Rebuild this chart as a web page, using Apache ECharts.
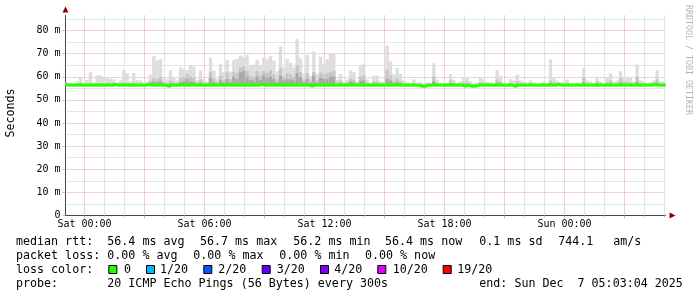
<!DOCTYPE html>
<html><head><meta charset="utf-8">
<script src="https://cdn.jsdelivr.net/npm/echarts@6/dist/echarts.min.js"></script>
<style>html,body{margin:0;padding:0;background:#fff}#c{width:697px;height:297px}</style>
</head><body><div id="c"></div>
<script>
// time axis in hours relative to Sat 00:00; graph spans Fri 23:03:04 .. Sun 05:03:04
const startHour = -0.948889;
const endHour = 29.051111;
const binHours = 1 / 6;
const yMax = 86.49;
const smokeFloor = 55.9;

const medianRtt = [
56.4,56.4,56.4,56.4,56.4,56.4,56.4,56.4,56.4,56.4,
56.4,56.4,56.4,56.4,56.7,56.4,56.4,56.4,56.4,56.4,
56.4,56.4,56.4,56.4,56.7,56.4,56.4,56.4,56.4,56.4,
55.8,56.4,56.4,56.4,56.4,56.4,56.4,56.4,56.4,56.4,
56.4,56.4,56.4,56.4,56.4,56.4,56.4,56.4,56.4,56.4,
56.4,56.4,56.4,56.4,56.4,56.4,56.4,56.4,56.8,56.4,
56.4,56.4,56.4,56.4,56.4,56.4,56.4,56.4,56.4,56.4,
56.4,56.4,56.4,56.0,56.4,56.4,56.4,56.4,56.4,56.4,
56.4,56.4,56.4,56.4,56.4,56.4,56.4,56.4,56.4,56.4,
56.4,56.4,56.4,56.4,56.4,56.4,56.4,56.4,56.4,56.4,
56.4,56.4,56.4,56.4,56.4,56.4,55.9,55.9,56.4,56.4,
56.4,56.4,56.4,56.4,56.4,56.4,56.4,56.4,56.4,56.0,
56.4,55.9,55.9,56.4,56.4,56.4,56.4,56.4,56.4,56.4,
56.4,56.4,56.4,56.4,55.9,56.4,56.4,56.4,56.4,56.4,
56.4,56.4,56.4,56.4,56.4,56.4,56.4,56.8,56.4,56.4,
56.4,56.4,56.4,56.4,56.4,56.4,56.4,56.4,56.4,56.4,
56.4,56.4,56.4,56.4,56.4,56.4,56.4,56.4,56.4,56.4,
56.4,56.4,56.4,56.4,56.4,56.4,56.8,56.4,56.4,56.4
];

// highest ping per 10-minute bin (lightest smoke)
const smokeOuter = [
57.6,57.4,56.9,58.0,59.8,57.4,58.6,62.0,57.6,60.6,
60.5,59.4,59.6,59.2,58.8,57.5,58.5,63.0,61.6,58.0,
61.6,58.5,58.5,57.6,58.0,61.0,68.9,67.0,67.6,59.6,
59.0,62.7,60.0,58.4,64.1,63.4,63.0,65.0,64.5,58.5,
62.7,59.0,58.0,68.3,62.7,59.0,65.6,62.0,67.3,62.2,
67.3,67.7,69.2,68.5,69.5,65.0,65.3,67.3,65.0,68.3,
67.5,68.9,67.0,62.4,73.1,64.1,67.6,66.0,64.0,76.4,
68.0,61.2,69.5,60.5,71.0,61.2,68.7,65.6,67.6,69.9,
69.9,58.8,61.2,58.0,58.8,62.7,62.0,58.0,64.7,65.6,
58.8,57.5,60.5,60.5,58.0,57.8,73.5,66.7,61.0,63.8,
61.2,58.4,57.6,57.2,58.8,57.2,57.8,57.0,57.6,57.2,
65.8,58.8,57.2,57.0,57.4,61.2,58.8,57.2,58.0,59.8,
59.8,58.0,57.2,57.6,59.8,59.0,57.8,57.6,57.2,63.0,
60.5,57.2,57.0,59.0,58.4,60.9,58.4,58.0,57.6,58.4,
57.6,57.0,57.2,58.0,57.2,67.5,59.8,58.4,57.4,58.0,
58.8,57.2,57.0,57.4,57.4,63.8,58.4,58.0,57.2,60.0,
58.0,57.2,59.5,61.5,58.0,58.4,62.4,60.0,60.0,59.8,
58.0,65.3,58.4,58.0,57.2,57.6,58.4,62.7,58.0,58.0
];

// inner smoke band (medium grey)
const smokeMiddle = [
56.8,56.8,56.6,57.0,57.4,56.8,57.0,57.2,56.8,57.4,
57.2,57.0,57.4,57.0,57.0,56.8,57.0,57.6,57.4,57.0,
57.4,57.0,57.0,56.8,57.0,58.2,59.5,59.0,60.0,57.8,
57.4,58.4,57.6,57.2,59.4,59.8,61.0,60.0,59.6,57.4,
58.8,57.6,57.2,62.0,59.2,57.6,60.4,58.6,61.8,59.0,
62.0,61.5,64.0,64.5,62.5,60.5,60.0,62.5,60.4,62.5,
61.8,62.8,61.0,59.0,63.5,60.0,61.5,61.0,60.0,65.0,
62.0,58.8,61.5,58.4,62.0,58.6,61.8,61.0,61.5,62.0,
62.5,57.6,58.4,57.2,57.6,59.2,58.8,57.2,60.0,60.5,
57.4,57.0,58.0,58.0,57.0,57.0,63.0,60.5,58.2,59.4,
58.2,57.2,57.0,56.8,57.2,56.8,57.0,56.8,57.0,56.8,
60.0,57.4,56.8,56.8,57.0,58.4,57.4,56.8,57.0,57.6,
57.6,57.0,56.8,57.0,57.6,57.4,57.0,57.0,56.8,58.8,
58.0,56.8,56.8,57.4,57.0,58.0,57.2,57.0,57.0,57.2,
57.0,56.8,56.8,57.0,56.8,58.4,57.6,57.2,56.8,57.0,
57.4,56.8,56.8,57.0,57.0,59.6,57.2,57.0,56.8,58.0,
57.0,56.8,57.6,58.6,57.0,57.2,59.2,58.0,57.8,57.6,
57.0,60.0,57.2,57.0,56.8,57.0,57.4,58.8,57.0,57.0
];

// core smoke band (dark grey)
const smokeInner = [
56.6,56.6,56.6,56.6,56.8,56.6,56.6,56.8,56.6,56.8,
56.8,56.6,56.8,56.6,56.6,56.6,56.6,57.0,56.8,56.6,
57.0,56.6,56.6,56.6,56.6,57.4,58.0,57.6,58.2,57.0,
56.8,57.2,56.8,56.8,57.6,58.0,59.0,58.0,57.8,56.8,
57.4,56.8,56.8,59.4,57.6,56.8,58.4,57.4,59.0,57.6,
60.0,59.0,62.0,62.5,60.0,58.6,58.2,60.0,58.6,60.5,
59.4,60.0,59.0,57.6,60.5,58.4,59.0,58.8,58.4,61.5,
59.8,57.6,59.0,57.4,60.5,57.4,59.5,59.0,59.0,60.0,
60.0,56.8,57.4,56.8,57.0,58.0,57.6,56.8,58.2,58.4,
56.8,56.6,57.0,57.0,56.6,56.6,59.0,58.4,57.2,57.6,
57.2,56.8,56.6,56.6,56.8,56.6,56.6,56.6,56.6,56.6,
58.0,56.8,56.6,56.6,56.6,57.2,56.8,56.6,56.6,57.0,
57.0,56.6,56.6,56.6,57.0,56.8,56.6,56.6,56.6,57.4,
57.0,56.6,56.6,56.8,56.8,57.0,56.8,56.6,56.6,56.8,
56.6,56.6,56.6,56.6,56.6,57.2,56.8,56.8,56.6,56.6,
56.8,56.6,56.6,56.6,56.6,57.6,56.8,56.6,56.6,57.0,
56.6,56.6,56.8,57.2,56.6,56.8,57.4,57.0,56.8,56.8,
56.6,57.8,56.8,56.6,56.6,56.6,56.8,57.2,56.6,56.6
];

const yMajorTicks = [0,10,20,30,40,50,60,70,80];
const yMinorTicks = [5,15,25,35,45,55,65,75,85];
const xMajorTicks = [0,3,6,9,12,15,18,21,24,27];
const xMinorTicks = [1,2,4,5,7,8,10,11,13,14,16,17,19,20,22,23,25,26,28,29];
const xLabelTicks = [0,6,12,18,24];
const xTickLabels = ['Sat 00:00','Sat 06:00','Sat 12:00','Sat 18:00','Sun 00:00'];

const lossColors = ['#26ff00','#00b8ff','#0059ff','#5e00ff','#7e00ff','#dd00ff','#ff0000'];
const lossLabels = ['0','1/20','2/20','3/20','4/20','10/20','19/20'];

const legendRows = [
  [[16,'median rtt:'],[107.3,'56.4 ms avg'],[200,'56.7 ms max'],[293.3,'56.2 ms min'],[385,'56.4 ms now'],[479.3,'0.1 ms sd'],[558.3,'744.1'],[613.3,'am/s']],
  [[16,'packet loss:'],[107.3,'0.00 % avg'],[193.3,'0.00 % max'],[279.3,'0.00 % min'],[365,'0.00 % now']],
  [[16,'loss color:']],
  [[16,'probe:'],[107.3,'20 ICMP Echo Pings (56 Bytes) every 300s'],[479.3,'end: Sun Dec  7 05:03:04 2025']]
];
const legendRowY = [242, 255.5, 269.5, 283.5];
const swatchX = [108.3,146,203.3,261.7,320,377.3,442.7];
const swatchLabelX = [124,160,218.3,276.7,334.3,392.7,457.3];

const MONO = '"DejaVu Sans Mono", monospace';
const smokeShades = ['#dddddd','#c6c6c6','#a8a8a8'];
const GRID_RED = '#e9a2a2';
const GRID_GREY = '#cbcbcb';
const AXIS_COL = '#444';

const smokeData = smokeOuter.map((v, i) => [
  startHour + i * binHours, startHour + (i + 1) * binHours,
  smokeFloor, v, smokeMiddle[i], smokeInner[i]
]);
const medianData = medianRtt.map((v, i) => [startHour + i * binHours, v]);
medianData.push([endHour, medianRtt[medianRtt.length - 1]]);

const graphics = [];
legendRows.forEach((row, r) => row.forEach(([x, t]) => graphics.push({
  type: 'text', x: x, y: legendRowY[r], silent: true,
  style: { text: t, font: '11.67px ' + MONO, fill: '#000', verticalAlign: 'middle', align: 'left' }
})));
lossColors.forEach((c, i) => {
  graphics.push({ type: 'rect', shape: { x: swatchX[i] + 0.5, y: 265.5, width: 8, height: 8 },
    style: { fill: c, stroke: '#000', lineWidth: 1 }, silent: true });
  graphics.push({ type: 'text', x: swatchLabelX[i], y: legendRowY[2], silent: true,
    style: { text: lossLabels[i], font: '11.67px ' + MONO, fill: '#000', verticalAlign: 'middle', align: 'left' } });
});
graphics.push({ type: 'text', x: 11, y: 113, rotation: Math.PI / 2, silent: true,
  style: { text: 'Seconds', font: '11.67px ' + MONO, fill: '#000', align: 'center', verticalAlign: 'middle' } });
graphics.push({ type: 'text', x: 688, y: 60, rotation: -Math.PI / 2, silent: true,
  style: { text: 'RRDTOOL / TOBI OETIKER', font: '8.3px ' + MONO, fill: '#b4b4b4', align: 'center', verticalAlign: 'middle' } });

function xAx(extra) {
  return Object.assign({
    type: 'value', min: startHour, max: endHour, position: 'bottom', gridIndex: 0,
    axisLine: { show: false, onZero: false }, axisTick: { show: false }, axisLabel: { show: false },
    splitLine: { show: false }
  }, extra);
}
function yAx(extra) {
  return Object.assign({
    type: 'value', min: 0, max: yMax, position: 'left', gridIndex: 0,
    axisLine: { show: false, onZero: false }, axisTick: { show: false }, axisLabel: { show: false },
    splitLine: { show: false }
  }, extra);
}

const chart = echarts.init(document.getElementById('c'), null, { renderer: 'canvas' });
chart.setOption({
  animation: false,
  backgroundColor: '#ffffff',
  grid: { left: 65.5, top: 15.5, width: 600, height: 200, containLabel: false, outerBoundsMode: 'none' },
  xAxis: [
    xAx({
      axisTick: { show: true, customValues: xMinorTicks, length: 2, inside: false, lineStyle: { color: GRID_GREY } },
      splitLine: { show: true, showMinLine: true, showMaxLine: true, lineStyle: { color: GRID_GREY, width: 1, type: [1, 1] } }
    }),
    xAx({
      axisTick: { show: true, customValues: xMajorTicks, length: 3, inside: false, lineStyle: { color: GRID_RED } },
      splitLine: { show: true, showMinLine: true, showMaxLine: true, lineStyle: { color: GRID_RED, width: 1, type: [1, 1] } },
      axisLabel: {
        show: true, customValues: xLabelTicks, margin: 4, color: '#000', fontFamily: MONO, fontSize: 10,
        formatter: v => xTickLabels[xLabelTicks.indexOf(Math.round(v))]
      }
    }),
    xAx({
      axisLine: { show: true, onZero: false, lineStyle: { color: AXIS_COL, width: 1 } }
    }),
    xAx({
      axisLine: { show: true, onZero: false, symbol: ['none', 'triangle'], symbolSize: [6, 6], symbolOffset: [0, 7],
        lineStyle: { color: '#8b0000', width: 0 } }
    })
  ],
  yAxis: [
    yAx({
      axisTick: { show: true, customValues: yMinorTicks, length: 2, inside: false, lineStyle: { color: GRID_GREY } },
      splitLine: { show: true, showMinLine: true, showMaxLine: true, lineStyle: { color: GRID_GREY, width: 1, type: [1, 1] } }
    }),
    yAx({
      axisTick: { show: true, customValues: yMajorTicks, length: 3, inside: false, lineStyle: { color: GRID_RED } },
      splitLine: { show: true, showMinLine: false, lineStyle: { color: GRID_RED, width: 1, type: [1, 1] } },
      axisLabel: {
        show: true, customValues: yMajorTicks, margin: 5, color: '#000', fontFamily: MONO, fontSize: 10,
        formatter: v => (v === 0 ? '0' : v + ' m')
      }
    }),
    yAx({
      axisLine: { show: true, onZero: false, lineStyle: { color: AXIS_COL, width: 1 } }
    }),
    yAx({
      axisLine: { show: true, onZero: false, symbol: ['none', 'triangle'], symbolSize: [6, 6], symbolOffset: [0, 6],
        lineStyle: { color: '#8b0000', width: 0 } }
    })
  ],
  series: [
    {
      type: 'custom', xAxisIndex: 0, yAxisIndex: 0, silent: true, z: 2,
      data: smokeData,
      encode: { x: [0, 1], y: [2, 3, 4, 5] },
      renderItem: function (params, api) {
        const x0 = api.value(0), x1 = api.value(1), lo = api.value(2);
        const children = [3, 4, 5].map((dim, j) => {
          const p0 = api.coord([x0, api.value(dim)]);
          const p1 = api.coord([x1, lo]);
          return { type: 'rect', shape: { x: p0[0], y: p0[1], width: p1[0] - p0[0], height: p1[1] - p0[1] },
            style: { fill: smokeShades[j] } };
        });
        return { type: 'group', children: children };
      }
    },
    {
      type: 'line', xAxisIndex: 0, yAxisIndex: 0, silent: true, z: 3,
      data: medianData, step: 'end', showSymbol: false, symbol: 'none',
      lineStyle: { color: lossColors[0], width: 3 }
    }
  ],
  graphic: graphics
});
</script>
</body></html>
